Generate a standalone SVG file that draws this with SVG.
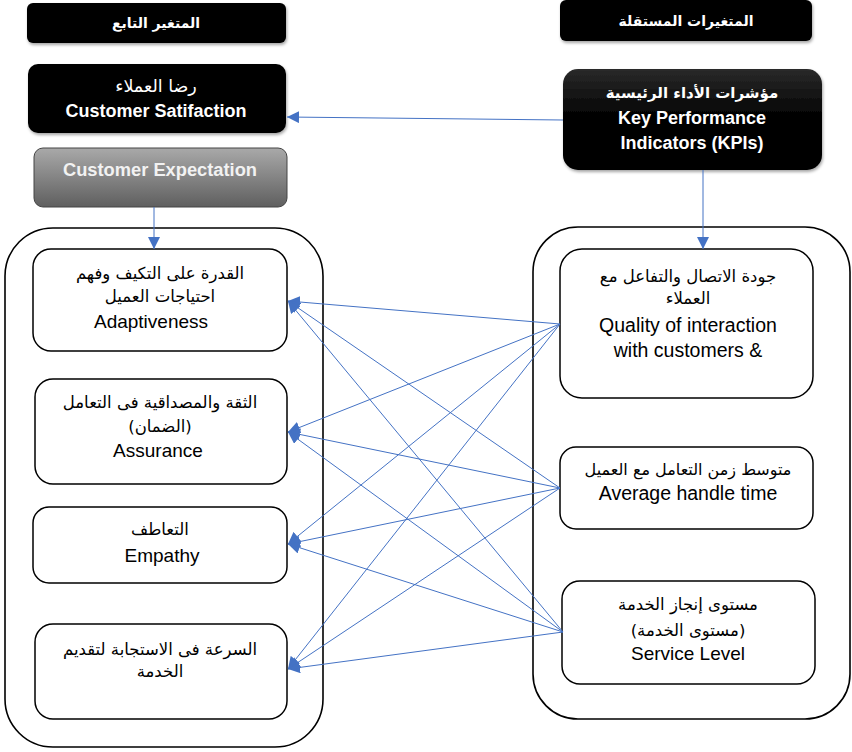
<svg xmlns="http://www.w3.org/2000/svg" width="852" height="752" viewBox="0 0 852 752">
<style>
.hdr{fill:#000;}
.box{fill:#fff;stroke:#000;stroke-width:1.5;}
.cont{fill:none;stroke:#000;stroke-width:1.6;}
.ar{font-family:"DejaVu Sans",sans-serif;text-anchor:middle;}
.en{font-family:"Liberation Sans",Arial,sans-serif;text-anchor:middle;}
.w{fill:#fff;}
.b{font-weight:bold;}
.k{fill:#000;}
.conn line{stroke:#4472C4;stroke-width:1;fill:none;}
</style>
<defs>
<marker id="ah" markerUnits="userSpaceOnUse" markerWidth="12" markerHeight="12" refX="10" refY="5" orient="auto" viewBox="0 0 10 10">
<path d="M0,0 L10,5 L0,10 Z" fill="#4472C4"/>
</marker>
<linearGradient id="gray" x1="0" y1="0" x2="0" y2="1">
<stop offset="0" stop-color="#a9a9a9"/>
<stop offset="1" stop-color="#5f5f5f"/>
</linearGradient>
<linearGradient id="blk" x1="0" y1="0" x2="0" y2="1">
<stop offset="0" stop-color="#2a2a2a"/>
<stop offset="0.5" stop-color="#000"/>
<stop offset="1" stop-color="#000"/>
</linearGradient>
<filter id="sh" x="-10%" y="-20%" width="120%" height="150%">
<feDropShadow dx="1" dy="2" stdDeviation="1.5" flood-color="#000" flood-opacity="0.35"/>
</filter>
</defs>

<g id="hdr-dep">
<rect x="27" y="3" width="259" height="40" rx="6" class="hdr" filter="url(#sh)"/>
<text x="156" y="28" class="ar w b" font-size="14">المتغير التابع</text>
</g>
<g id="hdr-indep">
<rect x="560" y="0" width="252" height="41" rx="6" class="hdr" filter="url(#sh)"/>
<text x="686" y="26" class="ar w b" font-size="14">المتغيرات المستقلة</text>
</g>

<g id="satisfaction">
<rect x="28" y="64" width="258" height="69" rx="10" class="hdr" filter="url(#sh)"/>
<text x="156" y="92" class="ar w" font-size="17.5">رضا العملاء</text>
<text x="156" y="117" class="en w b" font-size="18">Customer Satifaction</text>
</g>

<g id="expectation">
<rect x="34" y="148" width="253" height="59" rx="9" fill="url(#gray)" stroke="#444" stroke-width="1"/>
<text x="160" y="176" class="en b" fill="#f2f2f2" font-size="18.3">Customer Expectation</text>
</g>

<g id="kpi">
<rect x="563" y="69" width="259" height="101" rx="15" fill="url(#blk)" filter="url(#sh)"/>
<text x="692" y="98" class="ar w b" font-size="15">مؤشرات الأداء الرئيسية</text>
<text x="692" y="124" class="en w b" font-size="18">Key Performance</text>
<text x="692" y="149" class="en w b" font-size="18">Indicators (KPIs)</text>
</g>

<g id="left-container">
<rect x="5" y="228" width="318" height="519" rx="48" class="cont"/>
</g>
<g id="right-container">
<rect x="533" y="227" width="317" height="492" rx="45" class="cont"/>
</g>

<g id="adaptiveness">
<rect x="33" y="249" width="254" height="102" rx="18" class="box"/>
<text x="160" y="279" class="ar k" font-size="16.5">القدرة على التكيف وفهم</text>
<text x="160" y="302" class="ar k" font-size="16.5">احتياجات العميل</text>
<text x="151" y="328" class="en k" font-size="19">Adaptiveness</text>
</g>
<g id="assurance">
<rect x="35" y="379" width="252" height="105" rx="18" class="box"/>
<text x="160" y="408" class="ar k" font-size="16.5">الثقة والمصداقية فى التعامل</text>
<text x="160" y="432" class="ar k" font-size="16.5">(الضمان)</text>
<text x="158" y="457" class="en k" font-size="19">Assurance</text>
</g>
<g id="empathy">
<rect x="33" y="507" width="254" height="76" rx="16" class="box"/>
<text x="160" y="535" class="ar k" font-size="16.5">التعاطف</text>
<text x="162" y="562" class="en k" font-size="19">Empathy</text>
</g>
<g id="speed">
<rect x="35" y="624" width="252" height="95" rx="18" class="box"/>
<text x="160" y="655" class="ar k" font-size="16.5">السرعة فى الاستجابة لتقديم</text>
<text x="160" y="677" class="ar k" font-size="16.5">الخدمة</text>
</g>

<g id="quality">
<rect x="560" y="249" width="253" height="149" rx="22" class="box"/>
<text x="688" y="282" class="ar k" font-size="16.5">جودة الاتصال والتفاعل مع</text>
<text x="688" y="304" class="ar k" font-size="16.5">العملاء</text>
<text x="688" y="332" class="en k" font-size="19.5">Quality of interaction</text>
<text x="688" y="357" class="en k" font-size="19.5">with customers &amp;</text>
</g>
<g id="aht">
<rect x="560" y="447" width="253" height="82" rx="16" class="box"/>
<text x="688" y="475" class="ar k" font-size="16">متوسط زمن التعامل مع العميل</text>
<text x="688" y="500" class="en k" font-size="19.5">Average handle time</text>
</g>
<g id="service">
<rect x="562" y="581" width="253" height="103" rx="18" class="box"/>
<text x="688" y="610" class="ar k" font-size="16.5">مستوى إنجاز الخدمة</text>
<text x="688" y="636" class="ar k" font-size="16.5">(مستوى الخدمة)</text>
<text x="688" y="660" class="en k" font-size="19">Service Level</text>
</g>

<g id="connectors" class="conn">
<line x1="563" y1="120" x2="287" y2="117" marker-end="url(#ah)"/>
<line x1="154" y1="207" x2="154" y2="249" marker-end="url(#ah)"/>
<line x1="703" y1="170" x2="703" y2="249" marker-end="url(#ah)"/>
<line x1="560" y1="324" x2="288" y2="301" marker-end="url(#ah)"/>
<line x1="560" y1="324" x2="288" y2="432" marker-end="url(#ah)"/>
<line x1="560" y1="324" x2="288" y2="544" marker-end="url(#ah)"/>
<line x1="560" y1="324" x2="288" y2="669" marker-end="url(#ah)"/>
<line x1="560" y1="488" x2="288" y2="301" marker-end="url(#ah)"/>
<line x1="560" y1="488" x2="288" y2="432" marker-end="url(#ah)"/>
<line x1="560" y1="488" x2="288" y2="544" marker-end="url(#ah)"/>
<line x1="560" y1="488" x2="288" y2="669" marker-end="url(#ah)"/>
<line x1="563" y1="632" x2="288" y2="301" marker-end="url(#ah)"/>
<line x1="563" y1="632" x2="288" y2="432" marker-end="url(#ah)"/>
<line x1="563" y1="632" x2="288" y2="544" marker-end="url(#ah)"/>
<line x1="563" y1="632" x2="288" y2="669" marker-end="url(#ah)"/>
</g>
</svg>
